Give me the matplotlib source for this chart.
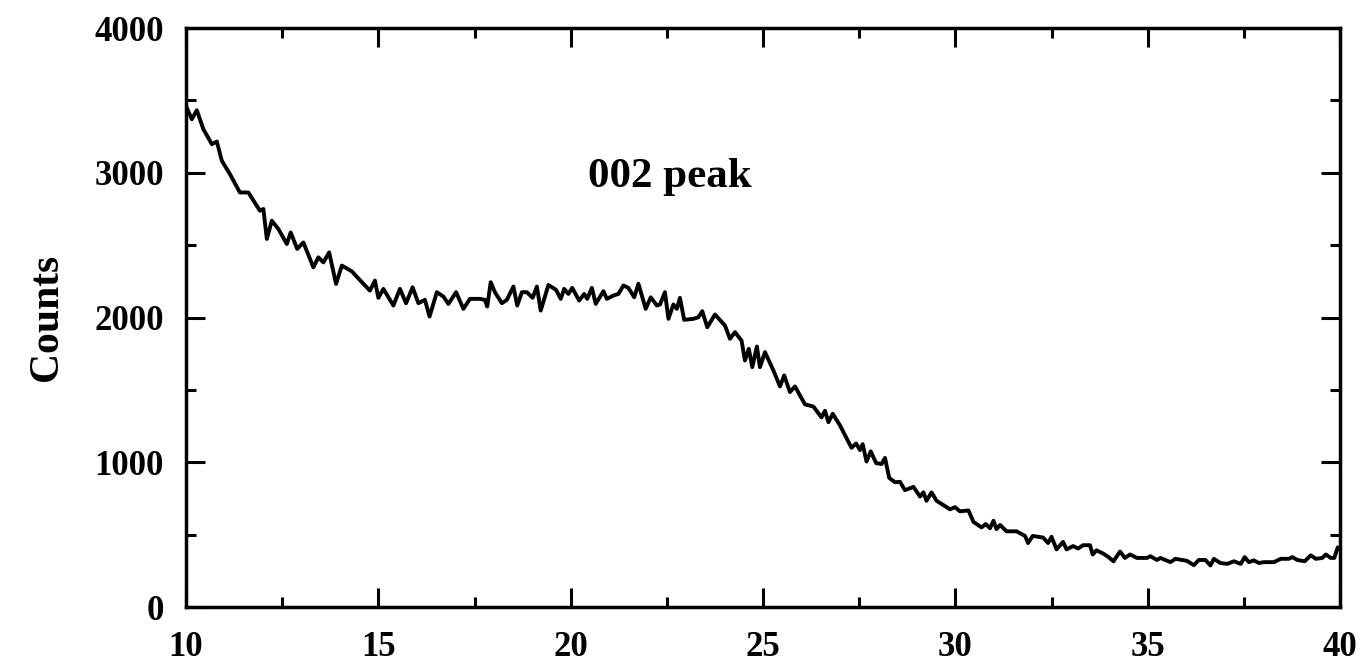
import matplotlib
matplotlib.use("Agg")
import matplotlib.pyplot as plt
from matplotlib.ticker import MultipleLocator

# Diffraction scan: 2-theta (degrees) vs detector counts
two_theta = [
    10.00, 10.15, 10.28, 10.45, 10.67, 10.80, 10.93, 11.14, 11.40, 11.62,
    11.92, 12.01, 12.10, 12.23, 12.40, 12.62, 12.72, 12.89, 13.05, 13.31,
    13.44, 13.57, 13.72, 13.90, 14.05, 14.31, 14.55, 14.78, 14.91, 15.00,
    15.13, 15.39, 15.56, 15.72, 15.89, 16.04, 16.21, 16.33, 16.52, 16.69,
    16.82, 17.02, 17.21, 17.38, 17.64, 17.77, 17.83, 17.92, 18.03, 18.21,
    18.34, 18.51, 18.61, 18.73, 18.86, 19.01, 19.12, 19.22, 19.42, 19.62,
    19.74, 19.83, 19.94, 20.04, 20.22, 20.35, 20.43, 20.55, 20.65, 20.85,
    20.94, 21.11, 21.24, 21.37, 21.50, 21.65, 21.76, 21.95, 22.08, 22.24,
    22.32, 22.45, 22.54, 22.67, 22.76, 22.84, 22.95, 23.19, 23.32, 23.42,
    23.55, 23.75, 24.01, 24.14, 24.27, 24.44, 24.53, 24.63, 24.72, 24.84,
    24.92, 25.05, 25.27, 25.44, 25.55, 25.70, 25.83, 26.09, 26.31, 26.52,
    26.61, 26.70, 26.81, 27.00, 27.30, 27.42, 27.52, 27.59, 27.69, 27.80,
    27.94, 28.08, 28.17, 28.28, 28.43, 28.56, 28.69, 28.91, 29.08, 29.17,
    29.25, 29.38, 29.51, 29.86, 29.99, 30.12, 30.34, 30.47, 30.68, 30.79,
    30.90, 30.99, 31.07, 31.16, 31.33, 31.59, 31.81, 31.89, 32.01, 32.28,
    32.41, 32.50, 32.63, 32.80, 32.89, 33.06, 33.19, 33.32, 33.50, 33.57,
    33.67, 33.85, 33.98, 34.11, 34.28, 34.41, 34.54, 34.72, 34.98, 35.07,
    35.24, 35.33, 35.59, 35.72, 36.02, 36.20, 36.33, 36.50, 36.63, 36.72,
    36.89, 37.07, 37.24, 37.42, 37.52, 37.63, 37.76, 37.89, 38.02, 38.28,
    38.46, 38.67, 38.76, 38.89, 39.08, 39.24, 39.37, 39.54, 39.63, 39.76,
    39.85, 39.94, 40.00,
]
counts = [
    3460, 3370, 3432, 3301, 3198, 3216, 3083, 2991, 2864, 2864,
    2738, 2750, 2543, 2669, 2612, 2508, 2588, 2474, 2519, 2347,
    2416, 2381, 2450, 2232, 2359, 2319, 2250, 2186, 2255, 2136,
    2198, 2083, 2198, 2099, 2209, 2099, 2122, 2007, 2175, 2145,
    2094, 2175, 2060, 2129, 2129, 2122, 2076, 2244, 2175, 2099,
    2122, 2214, 2083, 2175, 2175, 2136, 2214, 2048, 2225, 2191,
    2129, 2198, 2163, 2205, 2117, 2163, 2129, 2205, 2094, 2182,
    2129, 2152, 2163, 2221, 2205, 2140, 2233, 2060, 2140, 2083,
    2090, 2175, 1991, 2090, 2060, 2136, 1984, 1991, 2002, 2044,
    1933, 2021, 1945, 1853, 1899, 1841, 1703, 1784, 1657, 1800,
    1657, 1761, 1634, 1524, 1600, 1485, 1524, 1400, 1385, 1310,
    1356, 1277, 1335, 1255, 1100, 1130, 1084, 1125, 1005, 1075,
    994, 988, 1030, 892, 862, 865, 807, 830, 763, 792,
    734, 792, 734, 675, 690, 661, 667, 588, 550, 573,
    544, 596, 538, 567, 523, 523, 491, 442, 491, 480,
    442, 485, 398, 450, 398, 421, 404, 427, 427, 363,
    392, 368, 345, 316, 383, 339, 363, 339, 339, 351,
    325, 339, 310, 333, 319, 289, 325, 325, 287, 333,
    304, 298, 316, 298, 345, 310, 322, 304, 310, 310,
    333, 333, 345, 325, 316, 357, 333, 339, 363, 339,
    339, 412, 398,
]

x_ticks = [10, 15, 20, 25, 30, 35, 40]
y_ticks = [0, 1000, 2000, 3000, 4000]
annotation = "002 peak"
y_label = "Counts"

plt.rcParams["font.family"] = ["Liberation Serif", "DejaVu Serif"]
plt.rcParams["font.weight"] = "bold"

fig = plt.figure(figsize=(13.61, 6.68), dpi=100)
ax = fig.add_axes([0.1367, 0.0913, 0.8479, 0.8667])

ax.plot(two_theta, counts, color="black", linewidth=2.8,
        solid_joinstyle="round", solid_capstyle="round")

ax.set_xlim(10, 40)
ax.set_ylim(0, 4000)
ax.set_xticks(x_ticks)
ax.set_yticks(y_ticks)
ax.xaxis.set_minor_locator(MultipleLocator(2.5))
ax.yaxis.set_minor_locator(MultipleLocator(500))

ax.tick_params(which="both", direction="in", top=True, right=True,
               width=2.2, labelsize=25)
ax.tick_params(which="major", length=14)
ax.tick_params(which="minor", length=7)
ax.tick_params(axis="x", which="major", pad=17)
ax.tick_params(axis="y", which="major", pad=16)
for lbl in ax.get_xticklabels() + ax.get_yticklabels():
    lbl.set_fontweight("bold")

for spine in ax.spines.values():
    spine.set_linewidth(2.5)

ax.yaxis.set_label_coords(-0.104, 0.5)
ax.set_ylabel(y_label, fontsize=30, fontweight="bold")
ax.text(0.419, 0.742, annotation, transform=ax.transAxes, ha="center",
        va="center", fontsize=31, fontweight="bold")

fig.savefig("out.png", dpi=100, facecolor="white")
